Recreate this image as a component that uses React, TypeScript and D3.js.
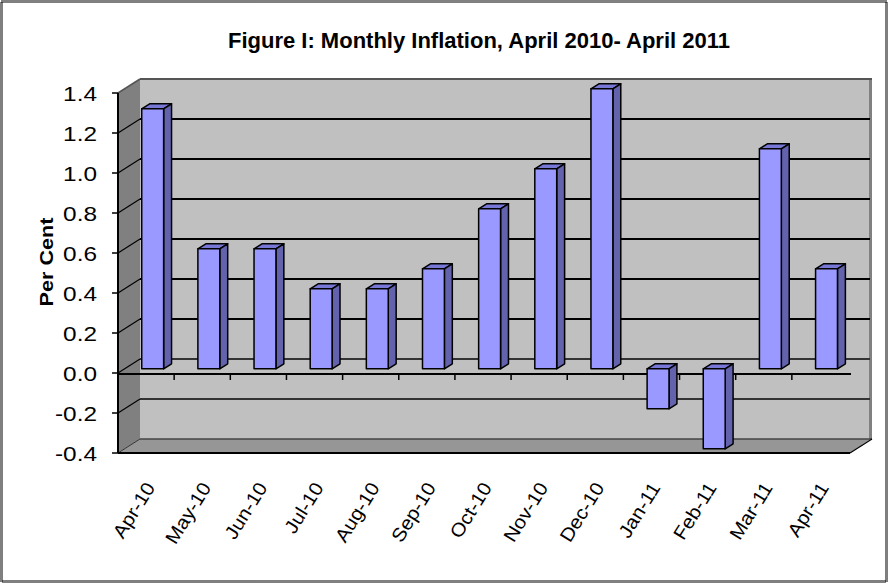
import React from "react"
import * as d3 from "d3"

const months = ["Apr-10", "May-10", "Jun-10", "Jul-10", "Aug-10", "Sep-10", "Oct-10", "Nov-10", "Dec-10", "Jan-11", "Feb-11", "Mar-11", "Apr-11"]
const inflation = [1.3, 0.6, 0.6, 0.4, 0.4, 0.5, 0.8, 1.0, 1.4, -0.2, -0.4, 1.1, 0.5]
const yTicks = [-0.4, -0.2, 0.0, 0.2, 0.4, 0.6, 0.8, 1.0, 1.2, 1.4]

const width = 888
const height = 584
// depth offset of the 3D box (front plane -> back wall)
const DX = 22
const DY = 14
const font = "'Liberation Sans', Arial, sans-serif"

const App: React.FC = () => {
  const x = d3.scaleBand<string>().domain(months).range([118, 848]).padding(0)
  const y = d3.scaleLinear().domain([-0.4, 1.4]).range([453, 93])

  const x0 = 118
  const x1 = 848
  const yTop = y(1.4)
  const yBot = y(-0.4)
  const y0 = y(0)

  // bar placement inside band / depth
  const barW = 0.39
  const t0 = 0.3
  const t1 = 0.66
  const bdx = DX * (t1 - t0)
  const bdy = DY * (t1 - t0)

  const bars = inflation.map((v, i) => {
    const bx = (x(months[i]) as number) + x.bandwidth() * ((1 - barW) / 2) + DX * t0
    const bw = x.bandwidth() * barW
    const yt = Math.min(y(v), y0) - DY * t0
    const yb = Math.max(y(v), y0) - DY * t0
    return { bx, bw, yt, yb, key: months[i] }
  })

  const pts = (p: [number, number][]) => p.map((d) => d.join(",")).join(" ")

  return (
    <svg width={width} height={height} style={{ position: "absolute", left: 0, top: 0, display: "block" }}>
      <rect x={0} y={0} width={width} height={height} fill="#ffffff" />
      <rect x={1.5} y={1.5} width={885} height={580} fill="none" stroke="#000" strokeWidth={3} strokeDasharray="1,1" />

      <text x={479} y={48} textAnchor="middle" fontFamily={font} fontWeight="bold" fontSize={22}>
        Figure I: Monthly Inflation, April 2010- April 2011
      </text>

      {/* walls */}
      <polygon points={pts([[x0, yTop], [x0 + DX, yTop - DY], [x0 + DX, yBot - DY], [x0, yBot]])} fill="#808080" />
      <rect x={x0 + DX} y={yTop - DY} width={x1 - x0} height={yBot - yTop} fill="#c0c0c0" />
      <rect x={x1 + DX - 1} y={yTop - DY} width={3} height={yBot - yTop} fill="#808080" />
      <polygon points={pts([[x0, yBot], [x0 + DX, yBot - DY], [x1 + DX + 1, yBot - DY], [x1 + 2, yBot]])} fill="#969696" />

      {/* gridlines on back wall and left wall */}
      {yTicks.filter((v) => v > -0.4 && v < 1.4).map((v) => (
        <g key={v}>
          <line x1={x0 + DX} x2={x1 + DX} y1={y(v) - DY} y2={y(v) - DY} stroke={v < 0.1 ? "#333" : "#000"} strokeWidth={2} />
          <line x1={x0} x2={x0 + DX} y1={y(v)} y2={y(v) - DY} stroke="#000" strokeWidth={1.2} />
        </g>
      ))}
      <line x1={x0 + DX} x2={x1 + DX + 2} y1={yTop - DY} y2={yTop - DY} stroke="#555" strokeWidth={2} />
      <line x1={x0} x2={x0 + DX} y1={yTop} y2={yTop - DY} stroke="#555" strokeWidth={1.5} />
      <line x1={x0 + DX} x2={x1 + DX + 2} y1={yBot - DY} y2={yBot - DY} stroke="#444" strokeWidth={1.5} />
      <line x1={x0} x2={x0 + DX} y1={yBot} y2={yBot - DY} stroke="#333" strokeWidth={1} />
      <line x1={x1 + 2} x2={x1 + DX + 2} y1={yBot} y2={yBot - DY} stroke="#000" strokeWidth={1.2} />
      <line x1={x0} x2={x1 + 2} y1={yBot} y2={yBot} stroke="#000" strokeWidth={2} />

      {/* y axis */}
      <line x1={x0} x2={x0} y1={yTop} y2={yBot} stroke="#000" strokeWidth={2} />
      {yTicks.map((v) => (
        <g key={v}>
          <line x1={x0 - 6} x2={x0} y1={y(v)} y2={y(v)} stroke="#000" strokeWidth={1.5} />
          <text transform={`translate(97,${y(v) + 1}) scale(1.22,1)`} dy="0.35em" textAnchor="end" fontFamily={font} fontSize={20}>
            {v.toFixed(1)}
          </text>
        </g>
      ))}
      <text transform={`translate(47,262) rotate(-90) scale(1.2,1)`} textAnchor="middle" dy="0.35em" fontFamily={font} fontWeight="bold" fontSize={18}>
        Per Cent
      </text>

      {/* category axis at zero */}
      <line x1={x0} x2={x1 + 3} y1={y0 + 1} y2={y0 + 1} stroke="#000" strokeWidth={2} />
      {months.slice(1).map((m) => (
        <line key={m} x1={x(m)} x2={x(m)} y1={y0 + 1} y2={y0 + 7} stroke="#000" strokeWidth={1.5} />
      ))}

      {/* bars */}
      {bars.map((b) => (
        <g key={b.key} stroke="#000" strokeWidth={1.5} strokeLinejoin="round">
          <polygon points={pts([[b.bx, b.yt], [b.bx + bdx, b.yt - bdy], [b.bx + b.bw + bdx, b.yt - bdy], [b.bx + b.bw, b.yt]])} fill="#7777d6" />
          <polygon points={pts([[b.bx + b.bw, b.yt], [b.bx + b.bw + bdx, b.yt - bdy], [b.bx + b.bw + bdx, b.yb - bdy], [b.bx + b.bw, b.yb]])} fill="#6262ad" />
          <rect x={b.bx} y={b.yt} width={b.bw} height={b.yb - b.yt} fill="#9999ff" />
        </g>
      ))}

      {/* category labels */}
      {months.map((m) => (
        <text
          key={m}
          transform={`translate(${(x(m) as number) + x.bandwidth() / 2 + 4},484) rotate(-58) scale(1.08,1)`}
          textAnchor="end"
          dy="0.35em"
          fontFamily={font}
          fontSize={19}
        >
          {m}
        </text>
      ))}
    </svg>
  )
}

export default App
